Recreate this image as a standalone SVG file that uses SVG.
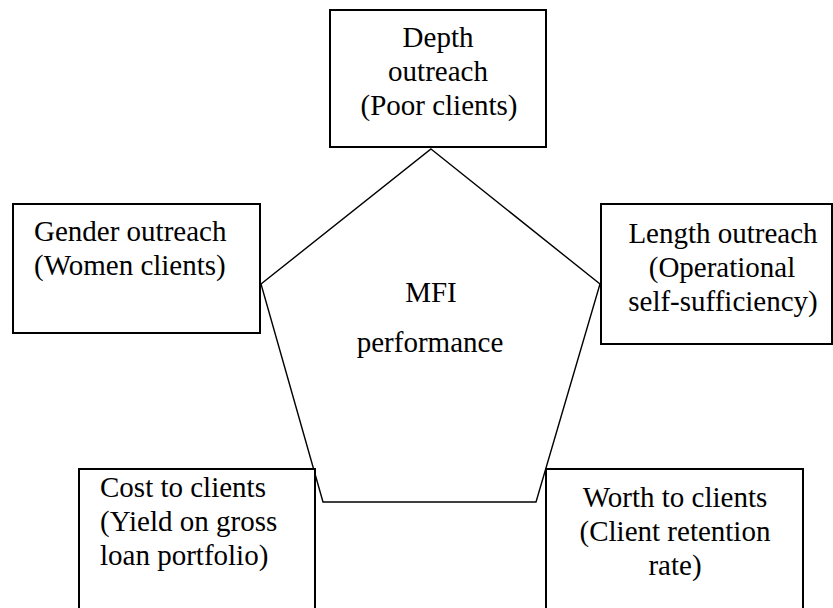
<svg xmlns="http://www.w3.org/2000/svg" width="833" height="608" viewBox="0 0 833 608">
<style>
.box{fill:#fff;stroke:#000;stroke-width:2}
.pent{fill:#fff;stroke:#000;stroke-width:1.4}
text{font-family:"Liberation Serif","Times New Roman",serif;font-size:29px;fill:#000}
.c{text-anchor:middle}
</style>
<rect width="833" height="608" fill="#fff"/>
<g id="connectors"></g>
<g id="mfi-performance">
<polygon class="pent" points="431,149 600,284 536,502 323,502 261,284"/>
<text class="c" x="431" y="302">MFI</text>
<text class="c" x="430" y="352">performance</text>
</g>
<g id="depth-outreach">
<rect class="box" x="330" y="10" width="216" height="137"/>
<text class="c" x="438" y="47">Depth</text>
<text class="c" x="438" y="81">outreach</text>
<text class="c" x="439" y="115">(Poor clients)</text>
</g>
<g id="gender-outreach">
<rect class="box" x="13" y="204" width="247" height="129"/>
<text x="34" y="241">Gender outreach</text>
<text x="34" y="275">(Women clients)</text>
</g>
<g id="length-outreach">
<rect class="box" x="601" y="204" width="231" height="140"/>
<text class="c" x="723" y="243">Length outreach</text>
<text class="c" x="722" y="277">(Operational</text>
<text class="c" x="723" y="311">self-sufficiency)</text>
</g>
<g id="cost-to-clients">
<rect class="box" x="79" y="469" width="236" height="160"/>
<text x="100" y="497">Cost to clients</text>
<text x="100" y="531">(Yield on gross</text>
<text x="100" y="565">loan portfolio)</text>
</g>
<g id="worth-to-clients">
<rect class="box" x="546" y="469" width="257" height="160"/>
<text class="c" x="675" y="507">Worth to clients</text>
<text class="c" x="675" y="541">(Client retention</text>
<text class="c" x="675" y="575">rate)</text>
</g>
</svg>
